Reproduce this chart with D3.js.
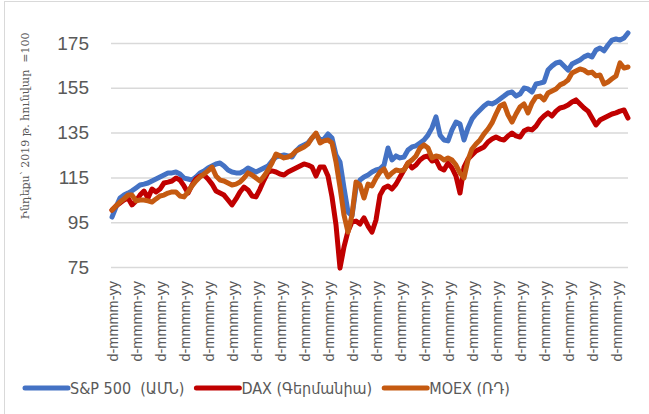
<!DOCTYPE html>
<html>
<head>
<meta charset="utf-8">
<script src="https://cdn.jsdelivr.net/npm/d3@7"></script>
<style>
  body { margin: 0; background: #fff; }
  svg { display: block; font-family: "Liberation Sans", "DejaVu Sans", sans-serif; }
</style>
</head>
<body>
<svg id="chart" width="649" height="414"></svg>
<script>
// series labels and colours
const seriesNames = ["S&P 500  (ԱՄՆ)", "DAX (Գերմանիա)", "MOEX (ՌԴ)"];
const seriesColors = ["#4472C4", "#C00000", "#C55A11"];

// index values, Jan 2019 = 100 (weekly-ish readings)
const sp500 = [
  97.3, 101.8, 105.8, 107.1, 108, 109, 110.3, 111.6, 112, 112.5,
  113.4, 114.3, 115.2, 116.1, 117, 117, 117.4, 116.5, 114.7, 114.3,
  113.8, 115.2, 117, 117.9, 119.2, 120.1, 121, 121.4, 120.1, 118.3,
  117.4, 117, 117, 117.9, 119.2, 118.3, 117.4, 118.3, 119.2, 120.1,
  122.3, 124.1, 124.6, 125, 124.6, 124.1, 126.8, 128.6, 129.5, 130.4,
  132.6, 134.4, 131.7, 132.1, 134.4, 132.6, 125, 121.9, 110.3, 99.6,
  97.8, 110.3, 113.8, 115.2, 116.1, 117.4, 118.3, 118.8, 120.5, 128.1,
  122.8, 124.6, 123.7, 124.1, 127.2, 128.6, 129.1, 130.4, 131.7, 133.9,
  137.1, 142, 133.9, 131.7, 131.3, 136.2, 139.7, 138.8, 131.7, 137.1,
  141.1, 143.3, 145.1, 146.9, 148.2, 147.8, 148.7, 150, 151.3, 152.7,
  153.1, 151.3, 152.2, 154.9, 154.5, 153.1, 156.7, 157.1, 157.6, 162.9,
  164.7, 166.1, 166.5, 164.7, 162.9, 165.6, 166.5, 167.4, 168.8, 169.6,
  168.8, 171.9, 172.8, 171.5, 174.1, 176.3, 176.8, 176.3, 177.2, 179.5
];
const dax = [
  100.4, 102.2, 103.6, 104.9, 105.8, 102.7, 104.5, 107.1, 108.9, 105.8,
  109.8, 108.5, 109.8, 112.5, 112.9, 113.4, 114.7, 113.8, 111.2, 108,
  111.6, 114.3, 115.6, 116.1, 114.3, 112, 108.9, 108, 107.1, 104.9,
  102.7, 105.4, 108.5, 110.7, 109.4, 106.7, 106.3, 109.8, 113.8, 117.4,
  117.9, 117.4, 116.5, 116.1, 117.4, 118.3, 119.2, 120.1, 121, 120.5,
  119.6, 115.6, 119.6, 119.6, 115.6, 106.3, 93.8, 74.5, 84, 91,
  95.1, 95.5, 94.2, 96.9, 93.3, 90.6, 96, 107.1, 110.3, 111.2,
  109.8, 112, 115.2, 118.3, 121.4, 119.2, 120.5, 122.8, 124.1, 124.6,
  122.3, 122.8, 119.2, 118.3, 121.4, 119.2, 115.6, 108, 119.6, 123.2,
  125, 126.8, 127.7, 128.6, 130.8, 132.1, 133, 132.1, 131.7, 133.5,
  134.8, 133.5, 133, 135.7, 136.6, 136.2, 137.9, 140.6, 142.4, 143.8,
  142.4, 144.6, 146, 146.4, 147.3, 148.7, 149.6, 147.8, 146, 144.6,
  141.5, 138.4, 140.6, 141.5, 142.4, 143.3, 143.8, 144.6, 145.1, 141.5
];
const moex = [
  100.4, 102.2, 104, 105.4, 107.1, 107.1, 104.5, 104.9, 104.9, 104.5,
  104, 105.4, 106.7, 107.1, 108, 108.5, 108.5, 106.7, 106.3, 108.5,
  111.2, 113.4, 115.2, 116.5, 117.9, 119.6, 115.6, 113.8, 113.4, 112.5,
  111.6, 112, 112.9, 114.7, 117, 116.1, 114.7, 113.4, 115.6, 118.3,
  121.4, 125.4, 124.6, 123.7, 124.1, 125, 126.8, 127.7, 128.6, 129.9,
  132.6, 134.8, 130.4, 131.3, 131.7, 130.4, 121.9, 110.7, 98.2, 90.6,
  98.2, 112.9, 111.6, 105.8, 112, 111.2, 114.7, 117.4, 118.8, 115.2,
  117, 118.3, 117.9, 118.3, 121.4, 122.8, 124.6, 128.1, 129.5, 128.1,
  123.7, 124.6, 124.1, 122.8, 123.7, 122.8, 120.5, 117, 114.7, 122.8,
  127.7, 129.9, 131.7, 134.4, 136.6, 139.3, 143.3, 146.9, 147.8, 142.9,
  139.7, 143.3, 146.4, 147.8, 143.8, 148.2, 150.9, 151.3, 149.6, 152.7,
  153.6, 154.5, 156.3, 157.1, 158.5, 161.6, 162.5, 163.4, 162.9, 161.6,
  162, 160.3, 160.7, 156.7, 157.6, 159, 160.3, 166.1, 163.8, 164.3
];

const yTicks = [75, 95, 115, 135, 155, 175];
// category labels as shown (unrendered date format), one every 6 points
const tickLabels = [
  "d-mmmm-yy", "d-mmmm-yy", "d-mmmm-yy", "d-mmmm-yy", "d-mmmm-yy", "d-mmmm-yy",
  "d-mmmm-yy", "d-mmmm-yy", "d-mmmm-yy", "d-mmmm-yy", "d-mmmm-yy", "d-mmmm-yy",
  "d-mmmm-yy", "d-mmmm-yy", "d-mmmm-yy", "d-mmmm-yy", "d-mmmm-yy", "d-mmmm-yy",
  "d-mmmm-yy", "d-mmmm-yy", "d-mmmm-yy", "d-mmmm-yy"
];
const labelStep = 6;
const yTitle = "Ինդեքս՝ 2019 թ. հունվար  =100";

const svg = d3.select("#chart");
const plot = { left: 111, right: 628, top: 43, bottom: 267 };
const textColor = "#595959";
const gridColor = "#d9d9d9";

// chart frame
svg.append("rect")
  .attr("x", 4.5).attr("y", 1.5)
  .attr("width", 700).attr("height", 500)
  .attr("fill", "none")
  .attr("stroke", gridColor)
  .attr("stroke-width", 1);

const x = d3.scaleLinear().domain([0, sp500.length - 1]).range([112, plot.right]);
const y = d3.scaleLinear().domain([75, 175]).range([plot.bottom, plot.top]);

// y axis with gridlines
const yAxis = svg.append("g")
  .attr("transform", `translate(${plot.left},0)`)
  .call(d3.axisLeft(y).tickValues(yTicks).tickSize(-(plot.right - plot.left)).tickPadding(22));
yAxis.select(".domain").remove();
yAxis.selectAll(".tick line").attr("stroke", gridColor).attr("stroke-width", 1.5);
yAxis.selectAll(".tick text")
  .attr("fill", textColor)
  .style("font-size", "19px")
  .style("font-family", "'Liberation Sans', sans-serif");

// x axis labels, rotated
const xAxis = svg.append("g")
  .attr("transform", `translate(0,${plot.bottom})`)
  .call(d3.axisBottom(x)
    .tickValues(tickLabels.map((d, k) => k * labelStep))
    .tickSize(0)
    .tickFormat((d) => tickLabels[d / labelStep]));
xAxis.select(".domain").remove();
xAxis.selectAll(".tick text")
  .attr("y", 0)
  .attr("dy", "0.35em")
  .attr("transform", "translate(0,14) rotate(-90)")
  .attr("text-anchor", "end")
  .attr("fill", textColor)
  .style("font-size", "14.5px");

// y axis title
svg.append("text")
  .attr("transform", "translate(25,126) rotate(-90)")
  .attr("text-anchor", "middle")
  .attr("dy", "0.35em")
  .attr("fill", textColor)
  .style("font-family", "'DejaVu Serif', serif")
  .style("font-size", "11px")
  .style("white-space", "pre")
  .text(yTitle);

// lines
const line = d3.line()
  .x((d, i) => x(i))
  .y((d) => y(d));

[sp500, dax, moex].forEach((series, s) => {
  svg.append("path")
    .datum(series)
    .attr("d", line)
    .attr("fill", "none")
    .attr("stroke", seriesColors[s])
    .attr("stroke-width", 5)
    .attr("stroke-linejoin", "round")
    .attr("stroke-linecap", "round");
});

// legend along the bottom
const legend = svg.append("g").attr("transform", "translate(25,388)");
let lx = 0;
seriesNames.forEach((name, s) => {
  legend.append("line")
    .attr("x1", lx).attr("x2", lx + 43)
    .attr("y1", 0).attr("y2", 0)
    .attr("stroke", seriesColors[s])
    .attr("stroke-width", 5)
    .attr("stroke-linecap", "round");
  const t = legend.append("text")
    .attr("x", lx + 45)
    .attr("y", 6)
    .attr("fill", textColor)
    .style("font-family", "'DejaVu Sans Condensed', 'DejaVu Sans', sans-serif")
    .style("font-stretch", "condensed")
    .style("font-size", "16px")
    .style("white-space", "pre")
    .text(name);
  lx += 45 + t.node().getComputedTextLength() + 12;
});
</script>
</body>
</html>
